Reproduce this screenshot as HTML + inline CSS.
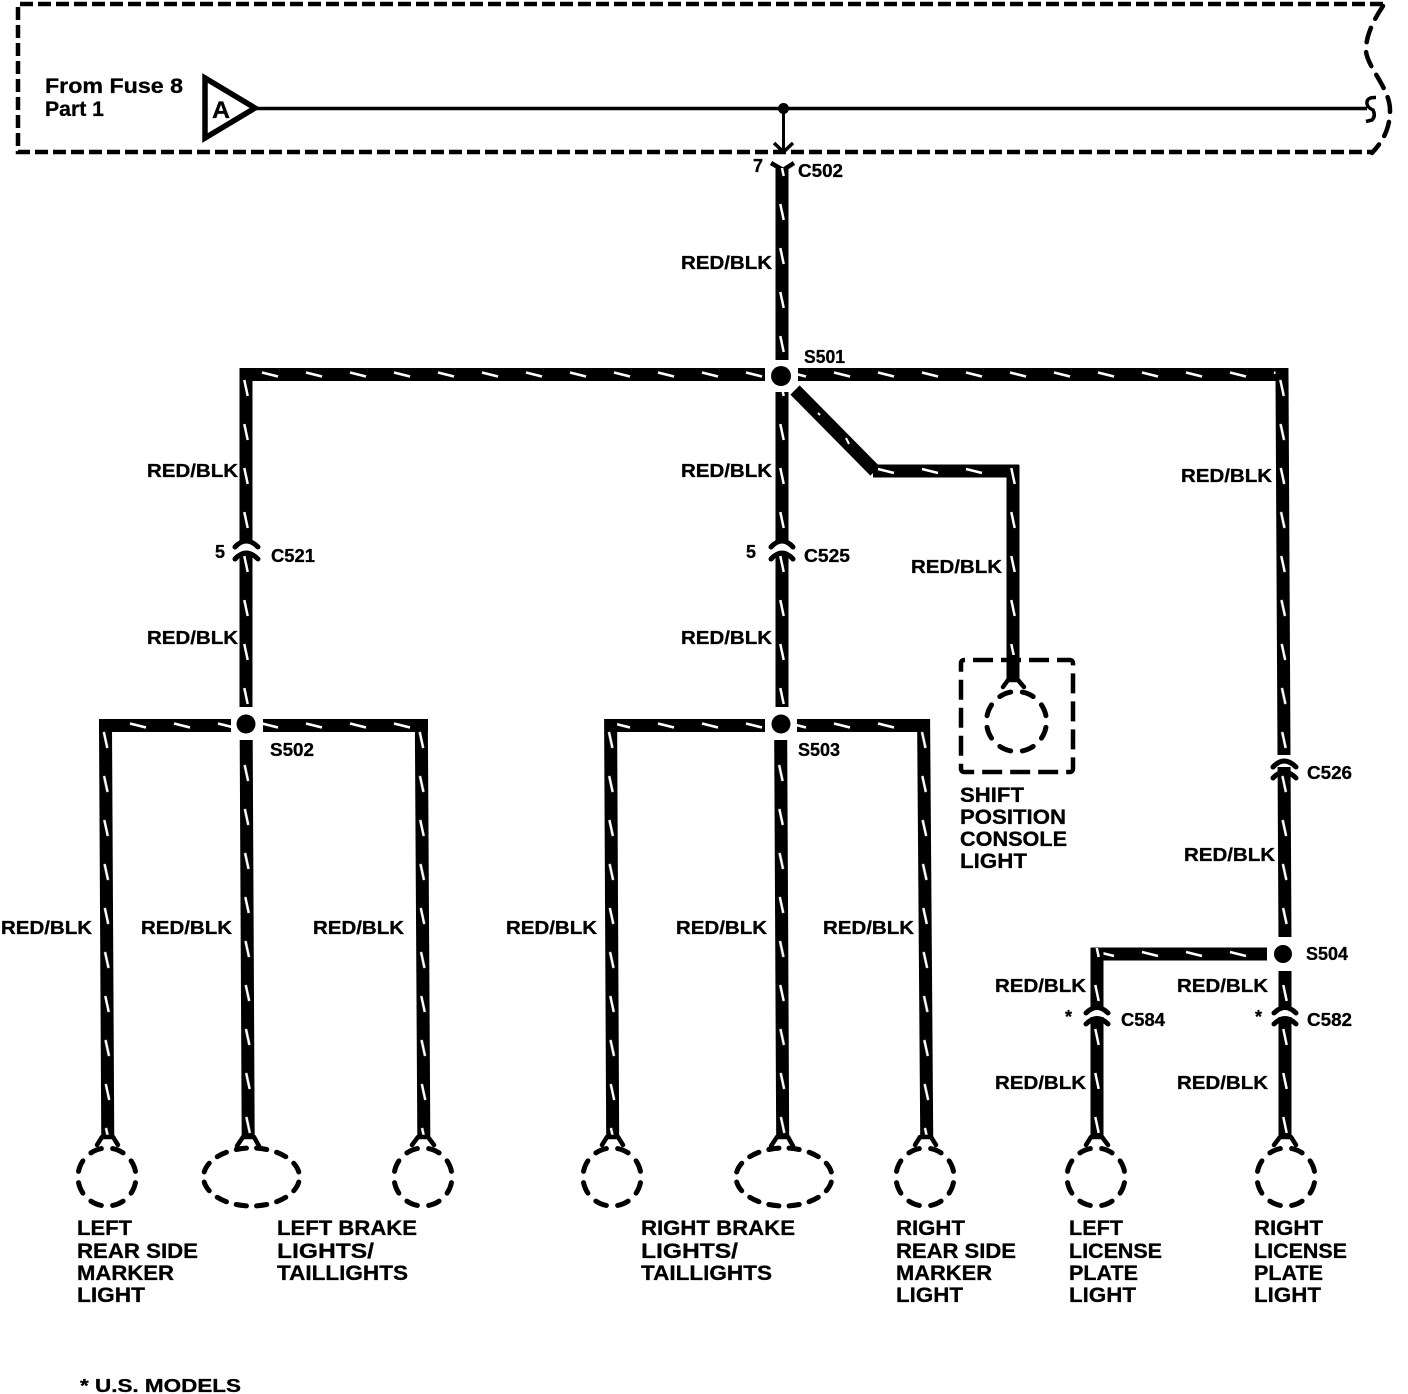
<!DOCTYPE html>
<html>
<head>
<meta charset="utf-8">
<style>
html,body{margin:0;padding:0;background:#fff;}
svg{display:block;}
text{font-family:"Liberation Sans",sans-serif;font-weight:bold;fill:#000;stroke:#000;stroke-width:.3;}
.s{font-size:18px;}
.l{font-size:21px;}
.f{font-size:21px;}
.d{fill:none;stroke:#000;stroke-width:4.5;}
.c{fill:none;stroke:#000;stroke-width:4.5;stroke-linejoin:round;stroke-linecap:round;}
</style>
</head>
<body>
<svg xmlns="http://www.w3.org/2000/svg" width="1408" height="1394" viewBox="0 0 1408 1394">
<defs>
<pattern id="v" patternUnits="userSpaceOnUse" x="-6.5" y="14" width="13" height="44">
<rect width="13" height="44" fill="#000"/><line x1="4.8" y1="14" x2="8.2" y2="30" stroke="#fff" stroke-width="2.5"/>
</pattern>
<pattern id="w" patternUnits="userSpaceOnUse" x="-6.5" y="3" width="13" height="44">
<rect width="13" height="44" fill="#000"/><line x1="4.8" y1="14" x2="8.2" y2="30" stroke="#fff" stroke-width="2.5"/>
</pattern>
<pattern id="h" patternUnits="userSpaceOnUse" x="-16" y="-6.5" width="44" height="13">
<rect width="44" height="13" fill="#000"/><line x1="14" y1="4.5" x2="30" y2="8.5" stroke="#fff" stroke-width="2.5"/>
</pattern>
</defs>
<rect width="1408" height="1394" fill="#fff"/>

<!-- dashed frame -->
<path class="d" stroke-dasharray="13 5" d="M1383 4H18V152H1372"/>
<path class="d" stroke-linecap="round" stroke-dasharray="15 10" d="M1383 6C1375 18 1366 34 1366 50C1366 66 1390 88 1390 110C1390 130 1382 142 1372 153"/>

<!-- fuse source -->
<polygon points="205,78 255,108 205,138" fill="none" stroke="#000" stroke-width="5.5" stroke-linejoin="miter"/>
<text x="212" y="118" font-size="24" textLength="18" lengthAdjust="spacingAndGlyphs">A</text>
<line x1="256" y1="108.500" x2="1367" y2="108.500" stroke="#000" stroke-width="3.500"/>
<path d="M1376 97.500Q1366 97 1367 104Q1368 108 1373 110Q1376 116 1372 120L1366 121.500" fill="none" stroke="#000" stroke-width="3.500"/>
<circle cx="783.500" cy="108.500" r="5.500" fill="#000"/>
<line x1="783.500" y1="108" x2="783.500" y2="152" stroke="#000" stroke-width="3"/>
<path d="M774 143L783.500 152L793 143" fill="none" stroke="#000" stroke-width="3.500"/>

<!-- C502 top -->
<path d="M771 163L783 170L794 163" fill="none" stroke="#000" stroke-width="4.500"/>
<g transform="translate(782,0)"><rect x="-6.500" y="168" width="13" height="192" fill="url(#v)"/></g>

<!-- horizontal from S501 -->
<g transform="translate(0,374.500)">
<rect x="241" y="-6.500" width="524" height="13" fill="url(#h)"/>
<rect x="798" y="-6.500" width="490" height="13" fill="url(#h)"/>
</g>
<!-- S501 verticals -->
<g transform="translate(246,0)">
<rect x="-6.500" y="368" width="13" height="174" fill="url(#v)"/>
<rect x="-6.500" y="553" width="13" height="154" fill="url(#v)"/>
</g>
<g transform="translate(782,0)">
<rect x="-6.500" y="392" width="13" height="150" fill="url(#v)"/>
<rect x="-6.500" y="553" width="13" height="154" fill="url(#v)"/>
</g>
<!-- diagonal -->
<path d="M795 390L875 471" stroke="#000" stroke-width="13" fill="none"/>
<g transform="translate(0,471)"><rect x="873" y="-6.500" width="146" height="13" fill="url(#h)"/></g>
<g transform="translate(1013,0)"><rect x="-6.500" y="465" width="13" height="216" fill="url(#v)"/></g>
<line x1="818" y1="413" x2="820" y2="415" stroke="#fff" stroke-width="2"/>
<line x1="846" y1="438" x2="849" y2="444" stroke="#fff" stroke-width="2"/>

<!-- right main -->
<g transform="matrix(1 0 .0053 1 1280 0)"><rect x="-6.500" y="368" width="13" height="387" fill="url(#v)"/><rect x="-6.500" y="767" width="13" height="170" fill="url(#v)"/></g>
<g transform="translate(0,954)"><rect x="1091" y="-6.500" width="176" height="13" fill="url(#h)"/></g>
<g transform="translate(1097,0)"><rect x="-6.500" y="948" width="13" height="60" fill="url(#w)"/><rect x="-6.500" y="1017" width="13" height="120" fill="url(#w)"/></g>
<g transform="translate(1285,0)"><rect x="-6.500" y="971" width="13" height="37" fill="url(#w)"/><rect x="-6.500" y="1017" width="13" height="120" fill="url(#w)"/></g>

<!-- S502 / S503 branches -->
<g transform="translate(0,725.500)">
<rect x="99" y="-6.500" width="132" height="13" fill="url(#h)"/>
<rect x="263" y="-6.500" width="165" height="13" fill="url(#h)"/>
<rect x="605" y="-6.500" width="160" height="13" fill="url(#h)"/>
<rect x="797" y="-6.500" width="133" height="13" fill="url(#h)"/>
</g>
<g transform="matrix(1 0 .0055 1 101.500 0)"><rect x="-6.500" y="719" width="13" height="418" fill="url(#v)"/></g>
<g transform="matrix(1 0 .0050 1 242.500 0)"><rect x="-6.500" y="740" width="13" height="397" fill="url(#w)"/></g>
<g transform="matrix(1 0 .0060 1 417 0)"><rect x="-6.500" y="719" width="13" height="418" fill="url(#v)"/></g>
<g transform="matrix(1 0 .0050 1 607 0)"><rect x="-6.500" y="719" width="13" height="418" fill="url(#v)"/></g>
<g transform="matrix(1 0 .0050 1 777 0)"><rect x="-6.500" y="740" width="13" height="397" fill="url(#w)"/></g>
<g transform="matrix(1 0 .0075 1 918.200 0)"><rect x="-6.500" y="719" width="13" height="418" fill="url(#v)"/></g>

<!-- splices -->
<g fill="#000">
<circle cx="781" cy="376" r="10"/>
<circle cx="246" cy="724" r="9.500"/>
<circle cx="781" cy="724" r="9.500"/>
<circle cx="1283" cy="954" r="9"/>
</g>

<!-- inline connectors -->
<g fill="none" stroke="#000" stroke-width="5" stroke-linecap="round">
<path d="M235 547Q246 535 258 547"/><path d="M235 559Q246 547 258 559"/>
<path d="M771 547Q782 535 793 547"/><path d="M771 559Q782 547 793 559"/>
<path d="M1273 767Q1284 755 1296 767"/><path d="M1273 778Q1284 766 1296 778"/>
<path d="M1086 1013Q1097 1002 1108 1013"/><path d="M1086 1024Q1097 1013 1108 1024"/>
<path d="M1274 1013Q1285 1002 1296 1013"/><path d="M1274 1024Q1285 1013 1296 1024"/>
</g>

<!-- shift light -->
<rect x="961" y="660" width="112" height="112" rx="3" fill="none" stroke="#000" stroke-width="4.500" stroke-dasharray="20 8" stroke-dashoffset="-9"/>
<rect x="1006.500" y="655" width="13" height="26" fill="#000"/>
<path class="c" d="M1003 687L1008 680H1018L1024 687"/>
<circle cx="1016.500" cy="721.500" r="30" fill="none" stroke="#000" stroke-width="5" stroke-linecap="round" pathLength="8" stroke-dasharray=".5 .5" stroke-dashoffset=".75"/>

<!-- lamps -->
<g fill="none" stroke="#000" stroke-width="5" stroke-linecap="round">
<circle cx="107" cy="1177" r="29" pathLength="8" stroke-dasharray=".5 .5" stroke-dashoffset=".75"/>
<circle cx="423" cy="1177" r="29" pathLength="8" stroke-dasharray=".5 .5" stroke-dashoffset=".75"/>
<circle cx="612" cy="1177" r="29" pathLength="8" stroke-dasharray=".5 .5" stroke-dashoffset=".75"/>
<circle cx="925" cy="1177" r="29" pathLength="8" stroke-dasharray=".5 .5" stroke-dashoffset=".75"/>
<circle cx="1096" cy="1177" r="29" pathLength="8" stroke-dasharray=".5 .5" stroke-dashoffset=".75"/>
<circle cx="1286" cy="1177" r="29" pathLength="8" stroke-dasharray=".5 .5" stroke-dashoffset=".75"/>
<ellipse cx="251.500" cy="1177" rx="48" ry="29" pathLength="12" stroke-dasharray=".5 .5" stroke-dashoffset=".75"/>
<ellipse cx="784" cy="1177" rx="48" ry="29" pathLength="12" stroke-dasharray=".5 .5" stroke-dashoffset=".75"/>
</g>
<path class="c" d="M97 1145L102 1137H113L118 1145"/>
<path class="c" d="M237 1146L243 1137H254L259 1146"/>
<path class="c" d="M412 1145L418 1137H428L434 1145"/>
<path class="c" d="M602 1145L607 1137H618L623 1145"/>
<path class="c" d="M771 1146L777 1137H788L793 1146"/>
<path class="c" d="M915 1145L920 1137H931L936 1145"/>
<path class="c" d="M1086 1145L1091 1137H1102L1108 1145"/>
<path class="c" d="M1274 1145L1280 1137H1291L1296 1145"/>

<!-- labels -->
<text class="f" x="45" y="93" textLength="138" lengthAdjust="spacingAndGlyphs">From Fuse 8</text>
<text class="f" x="45" y="116" textLength="59" lengthAdjust="spacingAndGlyphs">Part 1</text>

<text class="s" x="753" y="172">7</text>
<text class="s" x="798" y="177" textLength="45" lengthAdjust="spacingAndGlyphs">C502</text>
<text class="s" x="804" y="363" textLength="41" lengthAdjust="spacingAndGlyphs">S501</text>
<text class="s" x="215" y="558">5</text>
<text class="s" x="271" y="562" textLength="44" lengthAdjust="spacingAndGlyphs">C521</text>
<text class="s" x="746" y="558">5</text>
<text class="s" x="804" y="562" textLength="46" lengthAdjust="spacingAndGlyphs">C525</text>
<text class="s" x="270" y="756" textLength="44" lengthAdjust="spacingAndGlyphs">S502</text>
<text class="s" x="798" y="756" textLength="42" lengthAdjust="spacingAndGlyphs">S503</text>
<text class="s" x="1307" y="779" textLength="45" lengthAdjust="spacingAndGlyphs">C526</text>
<text class="s" x="1306" y="960" textLength="42" lengthAdjust="spacingAndGlyphs">S504</text>
<text class="s" x="1121" y="1026" textLength="44" lengthAdjust="spacingAndGlyphs">C584</text>
<text class="s" x="1307" y="1026" textLength="45" lengthAdjust="spacingAndGlyphs">C582</text>
<text class="s" x="1065" y="1023">*</text>
<text class="s" x="1255" y="1023">*</text>

<text class="s" x="681" y="269" textLength="91" lengthAdjust="spacingAndGlyphs">RED/BLK</text>
<text class="s" x="147" y="477" textLength="91" lengthAdjust="spacingAndGlyphs">RED/BLK</text>
<text class="s" x="681" y="477" textLength="91" lengthAdjust="spacingAndGlyphs">RED/BLK</text>
<text class="s" x="147" y="644" textLength="91" lengthAdjust="spacingAndGlyphs">RED/BLK</text>
<text class="s" x="681" y="644" textLength="91" lengthAdjust="spacingAndGlyphs">RED/BLK</text>
<text class="s" x="911" y="573" textLength="91" lengthAdjust="spacingAndGlyphs">RED/BLK</text>
<text class="s" x="1181" y="482" textLength="91" lengthAdjust="spacingAndGlyphs">RED/BLK</text>
<text class="s" x="1184" y="861" textLength="91" lengthAdjust="spacingAndGlyphs">RED/BLK</text>
<text class="s" x="1" y="934" textLength="91" lengthAdjust="spacingAndGlyphs">RED/BLK</text>
<text class="s" x="141" y="934" textLength="91" lengthAdjust="spacingAndGlyphs">RED/BLK</text>
<text class="s" x="313" y="934" textLength="91" lengthAdjust="spacingAndGlyphs">RED/BLK</text>
<text class="s" x="506" y="934" textLength="91" lengthAdjust="spacingAndGlyphs">RED/BLK</text>
<text class="s" x="676" y="934" textLength="91" lengthAdjust="spacingAndGlyphs">RED/BLK</text>
<text class="s" x="823" y="934" textLength="91" lengthAdjust="spacingAndGlyphs">RED/BLK</text>
<text class="s" x="995" y="992" textLength="91" lengthAdjust="spacingAndGlyphs">RED/BLK</text>
<text class="s" x="1177" y="992" textLength="91" lengthAdjust="spacingAndGlyphs">RED/BLK</text>
<text class="s" x="995" y="1089" textLength="91" lengthAdjust="spacingAndGlyphs">RED/BLK</text>
<text class="s" x="1177" y="1089" textLength="91" lengthAdjust="spacingAndGlyphs">RED/BLK</text>

<text class="l" x="960" y="802" textLength="64" lengthAdjust="spacingAndGlyphs">SHIFT</text>
<text class="l" x="960" y="824" textLength="106" lengthAdjust="spacingAndGlyphs">POSITION</text>
<text class="l" x="960" y="846" textLength="107" lengthAdjust="spacingAndGlyphs">CONSOLE</text>
<text class="l" x="960" y="868" textLength="67" lengthAdjust="spacingAndGlyphs">LIGHT</text>

<text class="l" x="77" y="1235" textLength="55" lengthAdjust="spacingAndGlyphs">LEFT</text>
<text class="l" x="77" y="1258" textLength="121" lengthAdjust="spacingAndGlyphs">REAR SIDE</text>
<text class="l" x="77" y="1280" textLength="97" lengthAdjust="spacingAndGlyphs">MARKER</text>
<text class="l" x="77" y="1302" textLength="68" lengthAdjust="spacingAndGlyphs">LIGHT</text>

<text class="l" x="277" y="1235" textLength="140" lengthAdjust="spacingAndGlyphs">LEFT BRAKE</text>
<text class="l" x="277" y="1258" textLength="97" lengthAdjust="spacingAndGlyphs">LIGHTS/</text>
<text class="l" x="277" y="1280" textLength="131" lengthAdjust="spacingAndGlyphs">TAILLIGHTS</text>

<text class="l" x="641" y="1235" textLength="154" lengthAdjust="spacingAndGlyphs">RIGHT BRAKE</text>
<text class="l" x="641" y="1258" textLength="97" lengthAdjust="spacingAndGlyphs">LIGHTS/</text>
<text class="l" x="641" y="1280" textLength="131" lengthAdjust="spacingAndGlyphs">TAILLIGHTS</text>

<text class="l" x="896" y="1235" textLength="69" lengthAdjust="spacingAndGlyphs">RIGHT</text>
<text class="l" x="896" y="1258" textLength="120" lengthAdjust="spacingAndGlyphs">REAR SIDE</text>
<text class="l" x="896" y="1280" textLength="96" lengthAdjust="spacingAndGlyphs">MARKER</text>
<text class="l" x="896" y="1302" textLength="67" lengthAdjust="spacingAndGlyphs">LIGHT</text>

<text class="l" x="1069" y="1235" textLength="54" lengthAdjust="spacingAndGlyphs">LEFT</text>
<text class="l" x="1069" y="1258" textLength="93" lengthAdjust="spacingAndGlyphs">LICENSE</text>
<text class="l" x="1069" y="1280" textLength="69" lengthAdjust="spacingAndGlyphs">PLATE</text>
<text class="l" x="1069" y="1302" textLength="67" lengthAdjust="spacingAndGlyphs">LIGHT</text>

<text class="l" x="1254" y="1235" textLength="69" lengthAdjust="spacingAndGlyphs">RIGHT</text>
<text class="l" x="1254" y="1258" textLength="93" lengthAdjust="spacingAndGlyphs">LICENSE</text>
<text class="l" x="1254" y="1280" textLength="69" lengthAdjust="spacingAndGlyphs">PLATE</text>
<text class="l" x="1254" y="1302" textLength="67" lengthAdjust="spacingAndGlyphs">LIGHT</text>

<text class="s" x="80" y="1392" textLength="161" lengthAdjust="spacingAndGlyphs">* U.S. MODELS</text>
</svg>
</body>
</html>
